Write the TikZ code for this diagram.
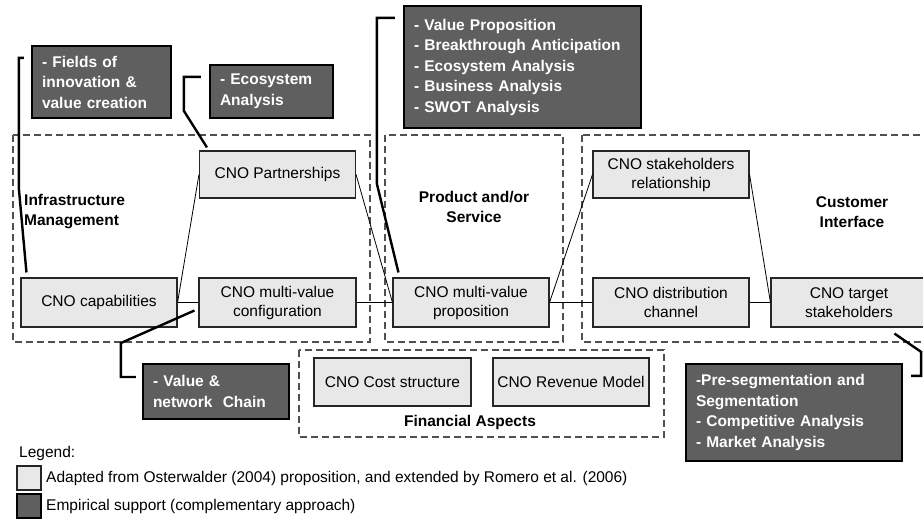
\documentclass[tikz,border=0pt]{standalone}
\usepackage{fontspec}
\setmainfont{Liberation Sans}
\usetikzlibrary{positioning}
\definecolor{lightfill}{HTML}{E8E8E8}
\definecolor{darkfill}{HTML}{5F5F5F}
\definecolor{dashgray}{HTML}{505050}
\tikzset{
	every node/.style = {font=\fontsize{15.5}{19}\selectfont},
	block/.style = {draw=black!85, line width=1.1pt, fill=lightfill, align=center,
		minimum width=156pt, minimum height=49pt, inner sep=2pt},
	note/.style = {draw=black, line width=2.2pt, fill=darkfill, text=white, align=left,
		inner xsep=10pt, inner ysep=3pt, font=\fontsize{15.5}{20.5}\selectfont\bfseries},
	area/.style = {draw=dashgray, line width=1.1pt, dash pattern=on 7pt off 4pt},
	link/.style = {draw, line width=0.8pt},
	callout/.style = {draw, line width=2.4pt},
	title/.style = {font=\fontsize{15.5}{20}\selectfont\bfseries}
}

\begin{document}
\begin{tikzpicture}[x=1pt, y=-1pt]
		\useasboundingbox (0,0) rectangle (923,520);
		\clip (0,0) rectangle (923,520);
		% areas
		\draw[area] (13,135) rectangle (370,342);
		\draw[area] (385,135) rectangle (563,342);
		\draw[area] (582,135) rectangle (940,342);
		\draw[area] (299,350) rectangle (664,437);
		
		\node[title, align=left, anchor=west, inner sep=0pt] (infra) at (24,212) {Infrastructure\\Management};
		\node[title, align=center] (product) at (474,207) {Product and/or\\Service};
		\node[title, align=center] (customer) at (852,212) {Customer\\Interface};
		\node[title] (finance) at (470,422) {Financial Aspects};
		
		% blocks
		\node[block, minimum height=47pt] (partner) at (277.5,174.5) {CNO Partnerships};
		\node[block, minimum height=47pt] (relation) at (671,174.5) {CNO stakeholders\\relationship};
		\node[block] (cap) at (99,302.5) {CNO capabilities};
		\node[block, minimum width=157pt] (config) at (277.5,302.5) {CNO multi-value\\configuration};
		\node[block] (prop) at (471,302.5) {CNO multi-value\\proposition};
		\node[block] (dist) at (671,302.5) {CNO distribution\\channel};
		\node[block] (target) at (849,302.5) {CNO target\\stakeholders};
		\node[block, minimum width=157pt, minimum height=48pt] (cost) at (392.5,382) {CNO Cost structure};
		\node[block, minimum height=48pt] (revenue) at (571,382) {CNO Revenue Model};
		
		% links
		\foreach \a/\b in {cap/config, config/prop, prop/dist, dist/target,
			cap/partner, partner/prop, prop/relation, relation/target}
			\draw[link] (\a.east) -- (\b.west);
		
		% notes
		\node[note, text width=119pt, minimum height=72pt] (fields) at (101.5,82)
			{- Fields of\\innovation \&\\value creation};
		\node[note, text width=103pt, minimum height=53pt] (eco) at (271.5,91.5)
			{- Ecosystem\\Analysis};
		\node[note, text width=217pt, minimum height=122pt] (vp) at (522.5,67)
			{- Value Proposition\\- Breakthrough Anticipation\\- Ecosystem Analysis\\- Business Analysis\\- SWOT Analysis};
		\node[note, text width=126pt, minimum height=55pt] (chain) at (216,391.5)
			{- Value \&\\network\ \ Chain};
		\node[note, text width=196pt, minimum height=97pt] (seg) at (794,412.5)
			{-Pre-segmentation and\\Segmentation\\- Competitive Analysis\\- Market Analysis};
		
		% callouts
		\coordinate (fieldsend) at ([shift={(-7,13)}]fields.north west);
		\coordinate (ecoend) at ([shift={(-8,13)}]eco.north west);
		\coordinate (vpend) at ([shift={(-8,13)}]vp.north west);
		\coordinate (chainend) at ([shift={(-6,-14.5)}]chain.west);
		\coordinate (segend) at ([shift={(8,13)}]seg.north east);
		\draw[callout] (fieldsend) -- ++(-5,0) -- ++(0,131) -- ([shift={(6,-5)}]cap.north west);
		\draw[callout] (ecoend) -- ++(-17,0) -- ++(0,34) -- ([shift={(8,-3)}]partner.north west);
		\draw[callout] (vpend) -- ++(-18,0) -- ++(0,166) -- ([shift={(6,-5)}]prop.north west);
		\draw[callout] (chainend) -- ++(-15,0) -- ++(0,-34) -- ([shift={(-4,8)}]config.west);
		\draw[callout] (segend) -- ++(10,0) -- ++(0,-24) -- ([shift={(124,6)}]target.south west);
		
		% legend
		\node[anchor=west, inner sep=0pt] (legend) at (19,453) {Legend:};
		\node[block, minimum width=24pt, minimum height=24pt, inner sep=0pt] (swlight) at (29,478) {};
		\node[note, minimum width=24pt, minimum height=24pt, inner sep=0pt] (swdark) at (29,506) {};
		\node[anchor=west, inner sep=0pt] (txtlight) at (46,478)
			{Adapted from Osterwalder (2004) proposition, and extended by Romero et al. (2006)};
		\node[anchor=west, inner sep=0pt] (txtdark) at (46,506)
			{Empirical support (complementary approach)};
	\end{tikzpicture}
\end{document}
